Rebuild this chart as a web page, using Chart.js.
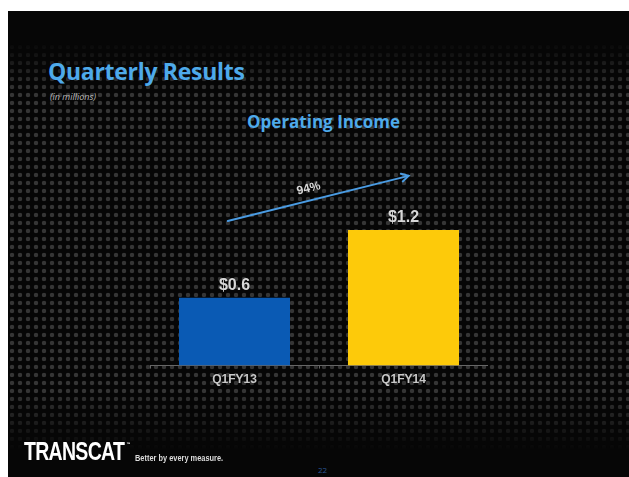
<!DOCTYPE html>
<html>
<head>
<meta charset="utf-8">
<script src="https://cdn.jsdelivr.net/npm/chart.js@4"></script>
<style>
    html, body { margin: 0; padding: 0; background: #fff; }
    body { width: 629px; height: 477px; position: relative; overflow: hidden; font-family: 'Open Sans', sans-serif; }
    .slide { position: absolute; left: 8px; top: 11px; width: 621px; height: 466px; background: #060606; overflow: hidden; }
    .dots {
        position: absolute; left: 0; top: 0; width: 100%; height: 100%;
        background-image: radial-gradient(circle, #353535 1.9px, rgba(0,0,0,0) 2.6px);
        background-size: 8px 8px;
        -webkit-mask-image: linear-gradient(to bottom, transparent 30px, #000 80px, #000 380px, transparent 440px);
        mask-image: linear-gradient(to bottom, transparent 30px, #000 80px, #000 380px, transparent 440px);
    }
    .title { position: absolute; left: 40px; top: 44px; color: #4eaaea; font-size: 23px; font-weight: 700; letter-spacing: -0.3px; }
    .sub { position: absolute; left: 42px; top: 79px; color: #bbb; font-size: 9px; font-style: italic; }
    .chart-title { position: absolute; left: 5px; width: 621px; top: 99px; text-align: center; color: #4eaaea; font-size: 17px; font-weight: 700; }
    .chart-box { position: absolute; left: 142px; top: 140px; width: 338px; height: 240px; }
    .logo { position: absolute; left: 16px; top: 426px; color: #fff; font-family: 'Liberation Sans', Arial, sans-serif; font-size: 25px; font-weight: 700; letter-spacing: -0.9px; transform: scaleX(0.78); transform-origin: left top; white-space: nowrap; }
    .logo sup { font-size: 5px; vertical-align: top; letter-spacing: 0; margin-left: 3px; position: relative; top: 4px; }
    .tag { position: absolute; left: 127px; top: 441px; color: #ddd; font-family: 'Liberation Sans', Arial, sans-serif; font-size: 9.5px; font-weight: 700; transform: scaleX(0.78); transform-origin: left top; white-space: nowrap; }
    .page { position: absolute; left: 310px; top: 453px; color: #2a5594; font-size: 8px; }
</style>
</head>
<body>
<div class="slide">
    <div class="dots"></div>
    <div class="title">Quarterly Results</div>
    <div class="sub">(in millions)</div>
    <div class="chart-title">Operating Income</div>
    <div class="chart-box"><canvas id="oiChart"></canvas></div>
    <div class="logo">TRANSCAT<sup>™</sup></div>
    <div class="tag">Better by every measure.</div>
    <div class="page">22</div>
</div>

<script>
// Operating income, $ millions
const quarters = ['Q1FY13', 'Q1FY14'];
const operatingIncome = [0.6, 1.2];
const valueLabels = ['$0.6', '$1.2'];
const barColors = ['#0a5ab4', '#fdca0a'];
const growthLabel = '94%';

// Labels above bars + growth arrow
const overlayPlugin = {
    id: 'overlay',
    afterDatasetsDraw(chart) {
        const ctx = chart.ctx;
        const meta = chart.getDatasetMeta(0);
        const xs = chart.scales.x, ys = chart.scales.y;

        ctx.save();
        ctx.fillStyle = '#d8d8d8';
        ctx.font = "bold 16px 'Liberation Sans', Arial, sans-serif";
        ctx.textAlign = 'center';
        ctx.textBaseline = 'bottom';
        meta.data.forEach((bar, i) => {
            ctx.fillText(valueLabels[i], bar.x, bar.y - 4);
        });

        // arrow
        const x1 = xs.getPixelForValue(-0.04), y1 = ys.getPixelForValue(1.28);
        const x2 = xs.getPixelForValue(1.03), y2 = ys.getPixelForValue(1.68);
        ctx.strokeStyle = '#4a9be2';
        ctx.lineWidth = 2;
        ctx.lineCap = 'round';
        ctx.beginPath();
        ctx.moveTo(x1, y1);
        ctx.lineTo(x2, y2);
        ctx.stroke();
        const ang = Math.atan2(y2 - y1, x2 - x1);
        ctx.beginPath();
        ctx.moveTo(x2 - 7 * Math.cos(ang) + 4 * Math.sin(ang), y2 - 7 * Math.sin(ang) - 4 * Math.cos(ang));
        ctx.lineTo(x2, y2);
        ctx.lineTo(x2 - 7 * Math.cos(ang) - 4 * Math.sin(ang), y2 - 7 * Math.sin(ang) + 4 * Math.cos(ang));
        ctx.stroke();

        // 94% text along the arrow
        const mx = (x1 + x2) / 2 - 8, my = (y1 + y2) / 2 - 4;
        ctx.translate(mx, my);
        ctx.rotate(ang);
        ctx.fillStyle = '#d8d8d8';
        ctx.font = "bold 12px 'Liberation Sans', Arial, sans-serif";
        ctx.textBaseline = 'bottom';
        ctx.fillText(growthLabel, 0, 0);
        ctx.restore();
    }
};

new Chart(document.getElementById('oiChart'), {
    type: 'bar',
    data: {
        labels: quarters,
        datasets: [{
            data: operatingIncome,
            backgroundColor: barColors,
            borderWidth: 0,
            barPercentage: 0.657,
            categoryPercentage: 1.0
        }]
    },
    options: {
        responsive: true,
        maintainAspectRatio: false,
        animation: false,
        layout: { padding: 0 },
        plugins: { legend: { display: false }, tooltip: { enabled: false } },
        scales: {
            x: {
                grid: { drawOnChartArea: false, drawTicks: true, tickLength: 3, color: '#666' },
                border: { color: '#666', width: 1 },
                ticks: { color: '#c8c8c8', font: { family: "'Liberation Sans', Arial, sans-serif", size: 12, weight: 'bold' }, padding: 4 }
            },
            y: {
                display: false,
                min: 0,
                max: 1.9
            }
        }
    },
    plugins: [overlayPlugin]
});
</script>
</body>
</html>
